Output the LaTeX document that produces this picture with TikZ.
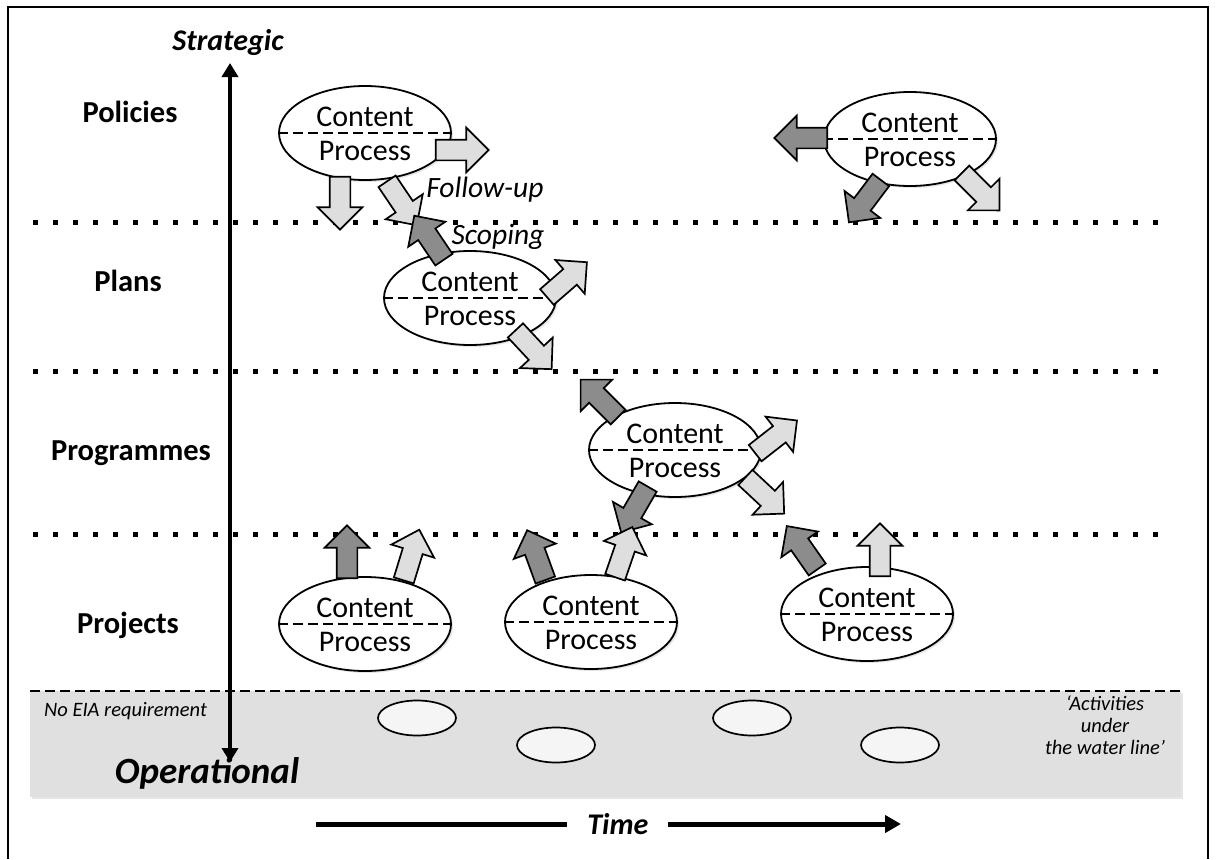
\documentclass[tikz,border=0pt]{standalone}
\usepackage{fontspec}
\setmainfont{Carlito}
\usetikzlibrary{arrows.meta,shapes.geometric,shapes.arrows,shadows}

\definecolor{darkfill}{gray}{0.55}
\definecolor{lightfill}{gray}{0.87}
\definecolor{bandfill}{gray}{0.88}
\definecolor{puckfill}{gray}{0.96}

\tikzset{
	levellabel/.style={font=\fontsize{30.5}{36}\selectfont\bfseries},
	axislabel/.style={font=\fontsize{30}{36}\selectfont\bfseries\itshape},
	cptext/.style={font=\fontsize{30}{34}\selectfont, inner sep=0pt},
	flowlabel/.style={font=\fontsize{29.5}{34}\selectfont\itshape, inner sep=0pt},
	softshadow/.style={drop shadow={opacity=0.2, shadow xshift=2pt, shadow yshift=-2pt}},
	cpellipse/.style={ellipse, draw, line width=1.8pt, fill=white, softshadow, minimum width=172pt, minimum height=94pt, inner sep=0pt},
	blockarrow/.style={single arrow, draw, line width=1.7pt, inner sep=0pt, inner ysep=9.5pt, single arrow head extend=12pt, minimum height=53pt},
	darkarrow/.style={blockarrow, fill=darkfill},
	lightarrow/.style={blockarrow, fill=lightfill},
	levelline/.style={line width=5pt, dash pattern=on 5pt off 15pt},
	waterline/.style={line width=2.4pt, dash pattern=on 10pt off 5pt},
	puck/.style={ellipse, draw, line width=1.7pt, fill=puckfill, minimum width=78pt, minimum height=35pt, inner sep=0pt},
	note/.style={font=\fontsize{20.5}{22}\selectfont\itshape, align=center, inner sep=0pt},
}

% ellipse split in content and process
\newcommand{\cpstage}[3]{%
	\node[cpellipse] (#1) at (#2, #3) {};
	\draw[waterline] (#1.west) -- (#1.east);
	\node[cptext] at ([yshift=16pt]#1.center) {Content};
	\node[cptext] at ([yshift=-18pt]#1.center) {Process};
}

\begin{document}
\begin{tikzpicture}[x=1pt, y=-1pt]
		\useasboundingbox (0,0) rectangle (1217,859);
		\draw[line width=1.4pt]	(8,859) -- (8,7) -- (1208,7) -- (1208,859);

		% water line band
		\fill[bandfill, softshadow]	(30,691) rectangle (1181,797);
		\draw[waterline]	(30,691) -- (1181,691);

		% levels
		\foreach \y in {222,371,534}
			\draw[levelline]	(33,\y) -- (1168,\y);

		\node[levellabel] (policies) at (130,112) {Policies};
		\node[levellabel] (plans) at (128,281) {Plans};
		\node[levellabel] (programmes) at (131,453) {Programmes};
		\node[levellabel] (projects) at (128,625) {Projects};

		% strategic - operational axis
		\node[axislabel] (strategic) at (228,43) {Strategic};
		\node[font=\fontsize{37}{42}\selectfont\bfseries\itshape] (operational) at (207,773) {Operational};
		\coordinate (axistop) at (230,63);
		\coordinate (axisbottom) at (230,762);
		\draw[line width=4pt, {Triangle[length=14pt,width=16pt]}-{Triangle[length=14pt,width=16pt]}]	(axisbottom) -- (axistop);

		\node[note, anchor=west] (noeia) at (44,711) {No EIA requirement};
		\node[note] (underwater) at (1105,725) {‘Activities\\under\\the water line’};

		% activities under the water line
		\node[puck] (u1) at (417,718) {};
		\node[puck] (u2) at (556,745) {};
		\node[puck] (u3) at (752,718) {};
		\node[puck] (u4) at (900,745) {};

		% stages
		\cpstage{pol1}{365}{133}
		\cpstage{pol2}{910}{139}
		\cpstage{pla1}{470}{298}
		\cpstage{pro1}{675}{450}
		\cpstage{prj1}{365}{624}
		\cpstage{prj2}{591}{622}
		\cpstage{prj3}{867}{614}

		% policy arrows
		\node[lightarrow] (a1) at (457,150) {};
		\node[lightarrow, rotate=-90] (a2) at (340,198) {};
		\node[lightarrow, rotate=-56] (a3) at (399,199) {};
		\node[darkarrow, rotate=180] (d1) at (806,138) {};
		\node[darkarrow, rotate=233] (d2) at (868,197) {};
		\node[lightarrow, rotate=-45] (d3) at (977,188) {};

		% plan arrows
		\node[darkarrow, rotate=124] (b1) at (432,242) {};
		\node[lightarrow, rotate=41] (b2) at (563,283) {};
		\node[lightarrow, rotate=-47] (b3) at (530,346) {};

		% programme arrows
		\node[darkarrow, rotate=135] (c1) at (603,402) {};
		\node[lightarrow, rotate=38] (c2) at (772,440) {};
		\node[lightarrow, rotate=-43] (c3) at (761,492) {};
		\node[darkarrow, rotate=240] (c4) at (637,505) {};

		% project arrows
		\node[darkarrow, rotate=90] (p1) at (347,557) {};
		\node[lightarrow, rotate=73] (p2) at (410,560) {};
		\node[darkarrow, rotate=110] (p3) at (538,560) {};
		\node[lightarrow, rotate=71] (p4) at (622,557) {};
		\node[darkarrow, rotate=125] (p5) at (805,552) {};
		\node[lightarrow, rotate=90] (p6) at (880,555) {};

		\node[flowlabel] (followup) at (485,190) {Follow-up};
		\node[flowlabel] (scoping) at (498,237) {Scoping};

		% time axis
		\coordinate (timestart) at (316,824);
		\coordinate (timeend) at (901,824);
		\draw[line width=5pt, -{Triangle[length=16pt,width=17pt]}]	(timestart) -- node[pos=0.516, fill=white, inner xsep=20pt, inner ysep=4pt, axislabel] (time) {Time} (timeend);
	\end{tikzpicture}
\end{document}
